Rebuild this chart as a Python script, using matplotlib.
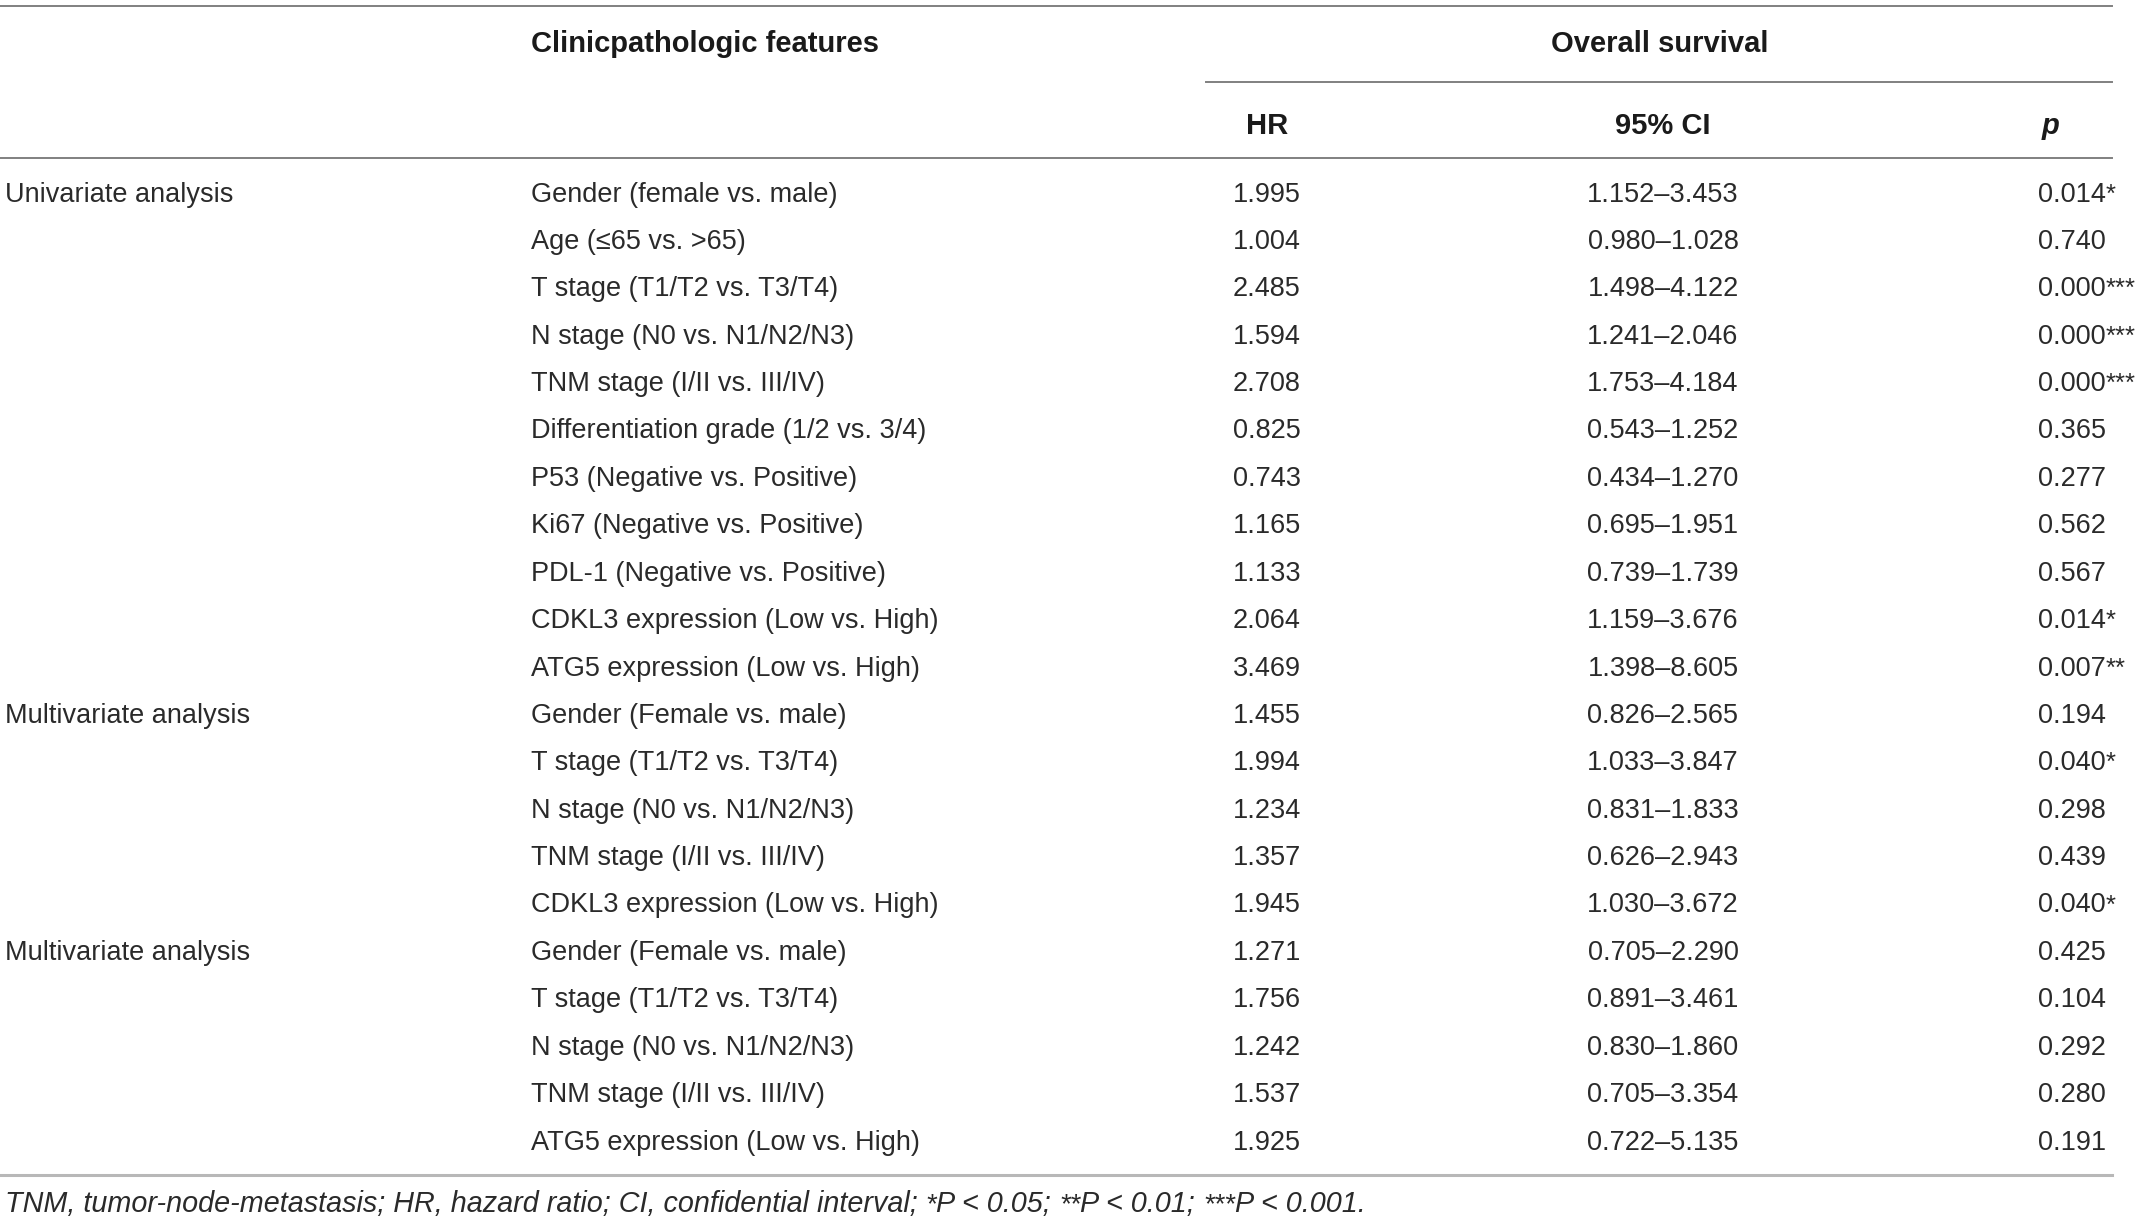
import matplotlib
matplotlib.use("Agg")
import matplotlib.pyplot as plt

# table content
groups = ["Univariate analysis", "Multivariate analysis", "Multivariate analysis"]
group_sizes = [11, 5, 5]
features = [
    "Gender (female vs. male)",
    "Age (\u226465 vs. >65)",
    "T stage (T1/T2 vs. T3/T4)",
    "N stage (N0 vs. N1/N2/N3)",
    "TNM stage (I/II vs. III/IV)",
    "Differentiation grade (1/2 vs. 3/4)",
    "P53 (Negative vs. Positive)",
    "Ki67 (Negative vs. Positive)",
    "PDL-1 (Negative vs. Positive)",
    "CDKL3 expression (Low vs. High)",
    "ATG5 expression (Low vs. High)",
    "Gender (Female vs. male)",
    "T stage (T1/T2 vs. T3/T4)",
    "N stage (N0 vs. N1/N2/N3)",
    "TNM stage (I/II vs. III/IV)",
    "CDKL3 expression (Low vs. High)",
    "Gender (Female vs. male)",
    "T stage (T1/T2 vs. T3/T4)",
    "N stage (N0 vs. N1/N2/N3)",
    "TNM stage (I/II vs. III/IV)",
    "ATG5 expression (Low vs. High)",
]
hr = ["1.995", "1.004", "2.485", "1.594", "2.708", "0.825", "0.743", "1.165", "1.133", "2.064", "3.469",
      "1.455", "1.994", "1.234", "1.357", "1.945",
      "1.271", "1.756", "1.242", "1.537", "1.925"]
ci_low = ["1.152", "0.980", "1.498", "1.241", "1.753", "0.543", "0.434", "0.695", "0.739", "1.159", "1.398",
          "0.826", "1.033", "0.831", "0.626", "1.030",
          "0.705", "0.891", "0.830", "0.705", "0.722"]
ci_high = ["3.453", "1.028", "4.122", "2.046", "4.184", "1.252", "1.270", "1.951", "1.739", "3.676", "8.605",
           "2.565", "3.847", "1.833", "2.943", "3.672",
           "2.290", "3.461", "1.860", "3.354", "5.135"]
p_values = ["0.014", "0.740", "0.000", "0.000", "0.000", "0.365", "0.277", "0.562", "0.567", "0.014", "0.007",
            "0.194", "0.040", "0.298", "0.439", "0.040",
            "0.425", "0.104", "0.292", "0.280", "0.191"]
stars = ["*", "", "***", "***", "***", "", "", "", "", "*", "**",
         "", "*", "", "", "*",
         "", "", "", "", ""]

footnote = [("TNM, tumor-node-metastasis; HR, hazard ratio; CI, confidential interval; ", False),
            ("*", True), ("P < 0.05; ", False), ("**", True), ("P < 0.01; ", False),
            ("***", True), ("P < 0.001.", False)]

W, H = 2147, 1222
fig = plt.figure(figsize=(W / 100, H / 100), dpi=100)
ax = fig.add_axes([0, 0, 1, 1])
ax.set_xlim(0, W)
ax.set_ylim(H, 0)
ax.axis("off")

FONT = ["Liberation Sans", "DejaVu Sans"]
FS = 19.5
HFS = 21
NFS = 20.7
TXT = "#2a2a2a"
LINE = "#808080"

renderer = fig.canvas.get_renderer()


def text_width(s, **kw):
    # width incl. trailing spaces, measured with a guard char
    t1 = ax.text(0, 0, s + "|", **kw)
    t2 = ax.text(0, 0, "|", **kw)
    w = t1.get_window_extent(renderer).width - t2.get_window_extent(renderer).width
    t1.remove()
    t2.remove()
    return w


def draw_runs(x, y, runs, size, style="normal"):
    # asterisks of this font already sit high, so keep them near full size
    for s, sup in runs:
        kw = dict(fontsize=size * 0.95 if sup else size, family=FONT, style=style, color=TXT, va="baseline")
        ax.text(x, y, s, **kw)
        x += text_width(s, **kw)


# rules
ax.plot([0, 2112], [6, 6], color=LINE, lw=1.4)
ax.plot([1206, 2112], [82, 82], color=LINE, lw=1.4)
ax.plot([0, 2112], [158, 158], color=LINE, lw=1.4)
ax.plot([0, 2112], [1175, 1175], color="#b8b8b8", lw=2.2)

# headers
hkw = dict(fontsize=HFS, family=FONT, weight="bold", color="#1a1a1a", va="center")
ax.text(531, 44, "Clinicpathologic features", ha="left", **hkw)
ax.text(1660, 44, "Overall survival", ha="center", **hkw)
ax.text(1267, 126, "HR", ha="center", **hkw)
ax.text(1663, 126, "95% CI", ha="center", **hkw)
ax.text(2051, 126, "p", ha="center", style="italic", **hkw)

# body rows
row0, step = 192, 47.4
base_off = 9.5
kw = dict(fontsize=FS, family=FONT, color=TXT, va="baseline")
i = 0
for g, n in zip(groups, group_sizes):
    ax.text(5, row0 + step * i + base_off, g, ha="left", **kw)
    i += n

for i in range(len(features)):
    yb = row0 + step * i + base_off
    ax.text(531, yb, features[i], ha="left", **kw)
    ax.text(1267, yb, hr[i], ha="center", **kw)
    ax.text(1663, yb, ci_low[i] + "\u2013" + ci_high[i], ha="center", **kw)
    runs = [(p_values[i], False)]
    if stars[i]:
        runs.append((stars[i], True))
    draw_runs(2038, yb, runs, FS)

draw_runs(5, 1212, footnote, NFS, style="italic")

fig.savefig("out.png", dpi=100)
